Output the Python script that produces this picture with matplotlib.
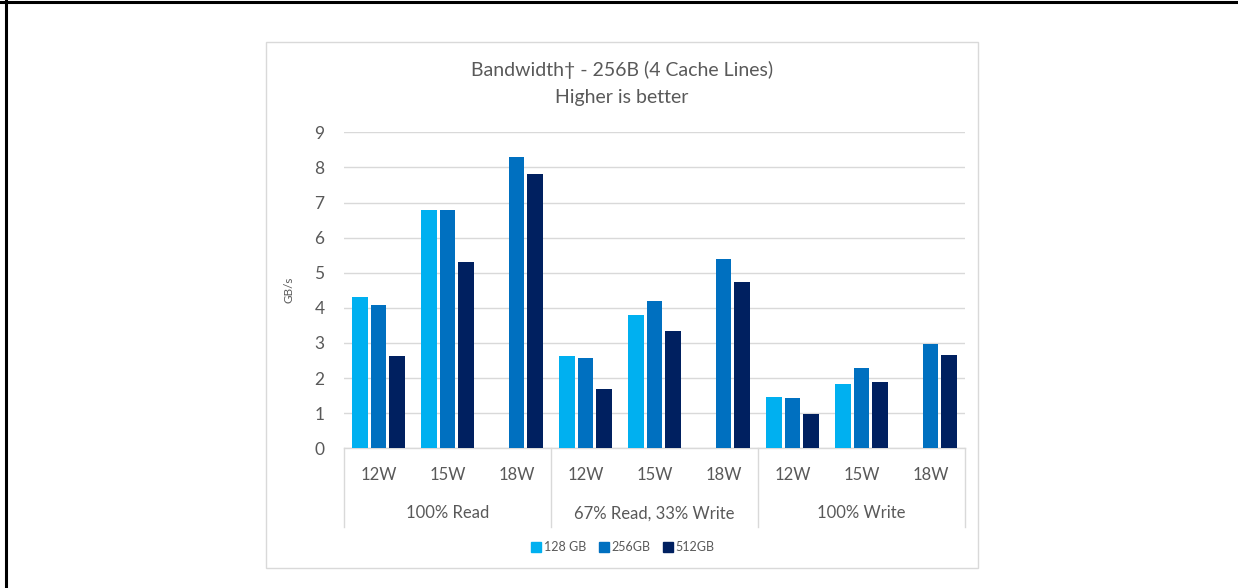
import numpy as np
import matplotlib
matplotlib.use("Agg")
import matplotlib.pyplot as plt
from matplotlib.patches import Rectangle
from matplotlib.lines import Line2D
from matplotlib.transforms import blended_transform_factory

plt.rcParams['font.family'] = ['Lato', 'DejaVu Sans']

# ---- data ----
groups = ["100% Read", "67% Read, 33% Write", "100% Write"]
watts = ["12W", "15W", "18W"]
series_names = ["128 GB", "256GB", "512GB"]
vals_128 = [4.3, 6.8, np.nan, 2.62, 3.79, np.nan, 1.45, 1.82, np.nan]
vals_256 = [4.08, 6.8, 8.3, 2.57, 4.2, 5.39, 1.43, 2.28, 2.98]
vals_512 = [2.63, 5.3, 7.8, 1.69, 3.33, 4.75, 0.99, 1.88, 2.67]
colors = ["#00B0F0", "#0070C0", "#002060"]

W, H = 1238, 588
fig = plt.figure(figsize=(W / 100, H / 100), dpi=100)
fig.patch.set_facecolor("white")

def fx(px):
    return px / W

def fy(py):
    return 1 - py / H

# outer frame (top & left)
fig.add_artist(Line2D([0, 1], [fy(2), fy(2)], color="black", lw=2.2, transform=fig.transFigure))
fig.add_artist(Line2D([fx(6), fx(6)], [fy(0), fy(H)], color="black", lw=2.2, transform=fig.transFigure))

# chart box
fig.add_artist(Rectangle((fx(266), fy(567.5)), fx(978) - fx(266), fy(42) - fy(567.5),
                         transform=fig.transFigure, fill=False, edgecolor="#D9D9D9", lw=1.0))

ax_left, ax_right = 344, 965
ax_top, ax_bot = 132.3, 448.3
ax = fig.add_axes([fx(ax_left), fy(ax_bot), fx(ax_right) - fx(ax_left), fy(ax_top) - fy(ax_bot)])

n = len(vals_256)
x = np.arange(n)
bw = 0.228
step = 0.266
for k, (vals, c) in enumerate(zip([vals_128, vals_256, vals_512], colors)):
    ax.bar(x + (k - 1) * step, vals, width=bw, color=c, label=series_names[k], zorder=3)

ax.set_xlim(-0.5, n - 0.5)
ax.set_ylim(0, 9)
ax.set_yticks(range(0, 10))
ax.yaxis.grid(True, color="#D9D9D9", lw=1.0, zorder=0)
ax.set_axisbelow(True)
for s in ["top", "right", "left"]:
    ax.spines[s].set_visible(False)
ax.spines["bottom"].set_color("#D9D9D9")
ax.spines["bottom"].set_linewidth(1.0)
ax.tick_params(axis="y", length=0, pad=14, labelsize=12.5, labelcolor="#595959")
ax.tick_params(axis="x", length=0)
ax.set_xticks([])
ax.set_facecolor("white")

ax.set_ylabel("GB/s", fontsize=8.5, color="#595959", labelpad=14)

# category labels
trans = blended_transform_factory(ax.transData, ax.transAxes)
def ay(py):
    return (ax_bot - py) / (ax_bot - ax_top)

for i in range(n):
    ax.text(x[i], ay(475), watts[i % 3], transform=trans, ha="center", va="center",
            fontsize=12, color="#595959")
for g, name in enumerate(groups):
    ax.text(g * 3 + 1, ay(513.5), name, transform=trans, ha="center", va="center",
            fontsize=12, color="#595959")
for b in [-0.5, 2.5, 5.5, 8.5]:
    ax.plot([b, b], [0, ay(527)], transform=trans, color="#D9D9D9", lw=1.0, clip_on=False)

# title
fig.text(fx(622), fy(70), "Bandwidth\u2020 - 256B (4 Cache Lines)", ha="center", va="center",
         fontsize=14, color="#595959")
fig.text(fx(622), fy(98), "Higher is better", ha="center", va="center",
         fontsize=14, color="#595959")

# legend
handles = [Line2D([], [], marker="s", linestyle="none", markersize=6.5, color=c) for c in colors]
fig.legend(handles, series_names, loc="center", bbox_to_anchor=(fx(622), fy(547)),
           ncol=3, frameon=False, fontsize=9, labelcolor="#595959",
           handletextpad=0.1, columnspacing=0.9, handlelength=1.0)

fig.savefig("out.png", dpi=100, facecolor="white")
